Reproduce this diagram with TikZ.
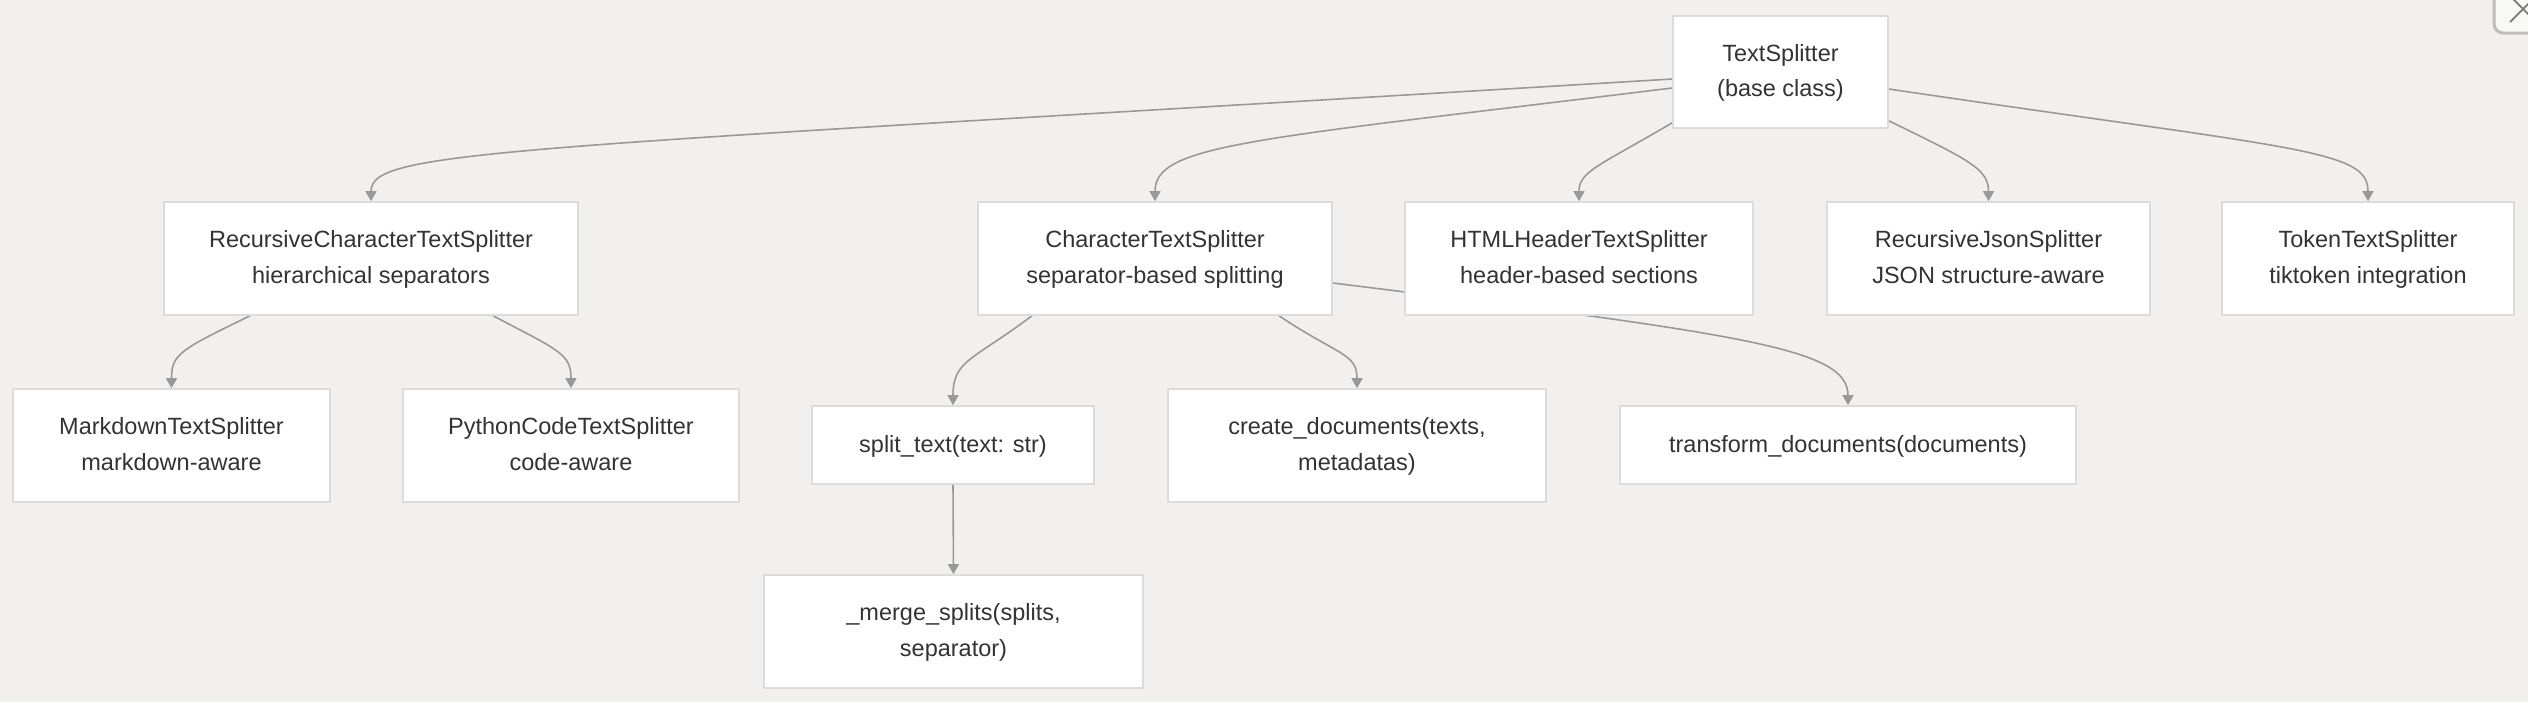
\documentclass[tikz,border=0pt]{standalone}
\usepackage{fontspec}
\setmainfont{Liberation Sans}
\usetikzlibrary{arrows.meta}
\definecolor{bgc}{HTML}{F1F0EF}
\definecolor{nodeborder}{HTML}{DCDCDC}
\definecolor{edgec}{HTML}{999999}
\definecolor{txt}{HTML}{333333}
\definecolor{btnc}{HTML}{BDBDBD}
\pgfdeclarelayer{bg}
\pgfdeclarelayer{edges}
\pgfsetlayers{bg,edges,main}
\newcommand{\nodetext}[1]{\raisebox{-5pt}{\begin{tabular}{@{}c@{}}#1\end{tabular}}}
\tikzset{
  box/.style={draw=nodeborder, line width=1.6pt, fill=white, text=txt,
    inner sep=0pt, font=\fontsize{23.5}{35.5}\selectfont},
  conn/.style={draw=edgec, line width=1.6pt,
    -{Triangle[width=11pt,length=10pt]}, color=edgec},
}
\begin{document}
\begin{tikzpicture}[x=1pt,y=1pt]
\useasboundingbox (0,0) rectangle (2528,-702);
\begin{pgfonlayer}{bg}
  \fill[bgc] (0,0) rectangle (2528,-702);
  \begin{scope}
    \clip (0,0) rectangle (2528,-702);
    \draw[btnc, line width=3pt, rounded corners=9pt, fill=white!50!bgc] (2494,-33) rectangle (2570,12);
    \draw[edgec!80!black, line width=1.8pt] (2510,-22) -- (2536,4) (2510,4) -- (2536,-22);
  \end{scope}
\end{pgfonlayer}

% nodes
\node[box, minimum width=215pt, minimum height=112pt] (ts) at (1780.5,-72) {\nodetext{TextSplitter\\(base class)}};
\node[box, minimum width=414pt, minimum height=113pt] (rcts) at (371,-258.5) {\nodetext{RecursiveCharacterTextSplitter\\hierarchical separators}};
\node[box, minimum width=317pt, minimum height=113pt] (md) at (171.5,-445.5) {\nodetext{MarkdownTextSplitter\\markdown-aware}};
\node[box, minimum width=336pt, minimum height=113pt] (py) at (571,-445.5) {\nodetext{PythonCodeTextSplitter\\code-aware}};
\node[box, minimum width=354pt, minimum height=113pt] (cts) at (1155,-258.5) {\nodetext{CharacterTextSplitter\\separator-based splitting}};
\node[box, minimum width=348pt, minimum height=113pt] (html) at (1579,-258.5) {\nodetext{HTMLHeaderTextSplitter\\header-based sections}};
\node[box, minimum width=323pt, minimum height=113pt] (json) at (1988.5,-258.5) {\nodetext{RecursiveJsonSplitter\\JSON structure-aware}};
\node[box, minimum width=292pt, minimum height=113pt] (tok) at (2368,-258.5) {\nodetext{TokenTextSplitter\\tiktoken integration}};
\node[box, minimum width=282pt, minimum height=78pt] (split) at (953,-445) {\nodetext{split\_text(text: str)}};
\node[box, minimum width=378pt, minimum height=113pt] (create) at (1357,-445.5) {\nodetext{create\_documents(texts,\\metadatas)}};
\node[box, minimum width=456pt, minimum height=78pt] (trans) at (1848,-445) {\nodetext{transform\_documents(documents)}};
\node[box, minimum width=379pt, minimum height=113pt] (merge) at (953.5,-631.5) {\nodetext{\_merge\_splits(splits,\\separator)}};

% connectors
\begin{pgfonlayer}{edges}
  \draw[conn] ([yshift=-7pt]ts.west) .. controls +(-1173,-71) and +(0,52) .. (rcts.north);
  \draw[conn] ([yshift=-16pt]ts.west) .. controls +(-423,-52) and +(0,57) .. (cts.north);
  \draw[conn] ([yshift=6pt]ts.south west) .. controls +(-73,-43) and +(0,30) .. (html.north);
  \draw[conn] ([yshift=8pt]ts.south east) .. controls +(82,-40) and +(0,32) .. (json.north);
  \draw[conn] ([yshift=-17pt]ts.east) .. controls +(412,-61) and +(0,52) .. (tok.north);
  \draw[conn] ([xshift=-121pt]rcts.south) .. controls +(-70,-34) and +(0,34) .. (md.north);
  \draw[conn] ([xshift=122pt]rcts.south) .. controls +(67,-35) and +(0,34) .. (py.north);
  \draw[conn] ([xshift=-123pt]cts.south) .. controls +(-60,-45) and +(0,45) .. (split.north);
  \draw[conn] ([xshift=124pt]cts.south) .. controls +(60,-40) and +(0,35) .. (create.north);
  \draw[conn] ([yshift=-24.5pt]cts.east) .. controls +(420,-52) and +(0,56) .. (trans.north);
  \draw[conn] (split.south) -- (merge.north);
\end{pgfonlayer}
\end{tikzpicture}
\end{document}
